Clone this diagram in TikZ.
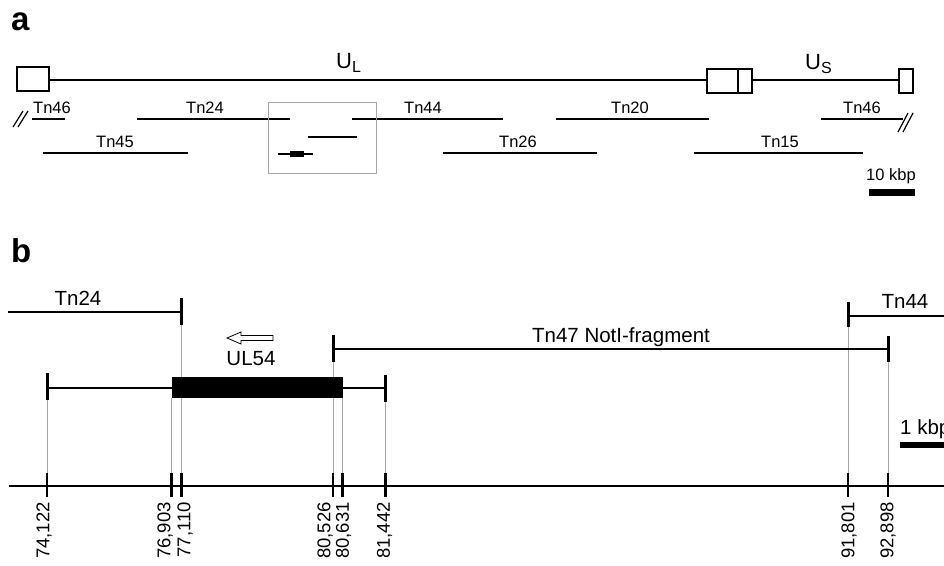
\documentclass[tikz,border=0pt]{standalone}
\usepackage{fontspec}
\setmainfont{Liberation Sans}
\begin{document}
\begin{tikzpicture}[x=1pt,y=-1pt,
  thinln/.style={line width=1.2pt},
  thickln/.style={line width=2.6pt},
  tickln/.style={line width=3pt},
  guide/.style={line width=0.6pt, gray!70},
  laba/.style={font=\fontsize{16.5}{18}\selectfont, anchor=base, inner sep=0},
  labb/.style={font=\fontsize{20.5}{22}\selectfont, anchor=base, inner sep=0},
  poslab/.style={font=\fontsize{18.5}{20}\selectfont, rotate=90, anchor=east, inner sep=0},
  panel/.style={font=\fontsize{33}{35}\selectfont\bfseries, anchor=base west, inner sep=0},
  ulab/.style={font=\fontsize{22}{24}\selectfont, anchor=base west, inner sep=0}]
\useasboundingbox (0,0) rectangle (944,565);

% ---------------- panel a ----------------
\node[panel] (pa) at (11,30) {a};
\node[ulab] (ul) at (336,68.5) {U\raisebox{-3.5pt}{\fontsize{16}{16}\selectfont L}};
\node[ulab] (us) at (805,69.5) {U\raisebox{-3.5pt}{\fontsize{16}{16}\selectfont S}};

\draw[thinln] (17,67) rectangle (49,91);
\draw[thinln] (707,69) rectangle (738,93);
\draw[thinln] (738,69) rectangle (752,93);
\draw[thinln] (899,69) rectangle (913,93);
\draw[thinln] (49,80) -- (707,80);
\draw[thinln] (752,80) -- (899,80);

% row 1
\draw[thinln] (32,119) -- (65,119);
\draw[thinln] (13,127) -- (23,111) (18,127) -- (28,111);
\node[laba] (tn46l) at (52,113.5) {Tn46};
\draw[thinln] (137,119) -- (290,119);
\node[laba] (tn24a) at (205,113.5) {Tn24};
\draw[thinln] (352,119) -- (503,119);
\node[laba] (tn44a) at (423,113.5) {Tn44};
\draw[thinln] (556,119) -- (709,119);
\node[laba] (tn20) at (630,113.5) {Tn20};
\draw[thinln] (821,119) -- (903,119);
\draw[thinln] (898,132) -- (908,113) (903,132) -- (913,113);
\node[laba] (tn46r) at (862,113.5) {Tn46};

% row 2
\draw[thinln] (43,153) -- (188,153);
\node[laba] (tn45) at (115,147.5) {Tn45};
\draw[thinln] (443,153) -- (597,153);
\node[laba] (tn26) at (518,147.5) {Tn26};
\draw[thinln] (694,153) -- (863,153);
\node[laba] (tn15) at (780,147.5) {Tn15};

% zoom box
\draw[line width=0.8pt, gray!70] (268,102) rectangle (376,173);
\draw[thinln] (308,137) -- (357,137);
\draw[thinln] (278,154) -- (313,154);
\fill (290,151) rectangle (304,157);

% scale bar a
\node[laba] (kbp10) at (891,180) {10 kbp};
\fill (869,189) rectangle (915,196);

% ---------------- panel b ----------------
\node[panel] (pb) at (11,262) {b};

% guide lines
\draw[guide] (47,400) -- (47,473);
\draw[guide] (171.5,398) -- (171.5,473);
\draw[guide] (181.5,325) -- (181.5,473);
\draw[guide] (333,362) -- (333,473);
\draw[guide] (342.5,398) -- (342.5,473);
\draw[guide] (385.5,402) -- (385.5,473);
\draw[guide] (848,327) -- (848,473);
\draw[guide] (888,362) -- (888,473);

% Tn24
\draw[thickln] (8,312) -- (181.5,312);
\draw[tickln] (181.5,298) -- (181.5,325);
\node[labb] (tn24b) at (78,305) {Tn24};

% UL54 arrow
\draw[line width=0.8pt, fill=white] (273,335.5) -- (241,335.5) -- (241,332) -- (227,338)
  -- (241,344) -- (241,340.5) -- (273,340.5) -- cycle;
\node[labb] (ul54) at (251,365) {UL54};

% Tn47
\draw[thickln] (333,349) -- (888,349);
\draw[tickln] (333,335) -- (333,362);
\draw[tickln] (888,336) -- (888,362);
\node[labb] (tn47) at (621,342) {Tn47 NotI-fragment};

% Tn44
\draw[thickln] (848,316) -- (944,316);
\draw[tickln] (848,302) -- (848,327);
\node[labb] (tn44b) at (905,308) {Tn44};

% UL54 gene row
\draw[thickln] (47,388) -- (385.5,388);
\draw[tickln] (47,373) -- (47,400);
\draw[tickln] (385.5,375) -- (385.5,402);
\fill (171.5,377) rectangle (342.5,398);

% scale bar b
\node[labb, anchor=base west] (kbp1) at (900,434) {1 kbp};
\fill (900,442) rectangle (944,448);

% axis
\draw[line width=2pt] (9,486) -- (944,486);
\foreach \x in {47,171.5,181.5,333,342.5,385.5,848,888}
  \draw[line width=2.2pt] (\x,473) -- (\x,497);
\node[poslab] (p1) at (44,502) {74,122};
\node[poslab] (p2) at (165,502) {76,903};
\node[poslab] (p3) at (185,502) {77,110};
\node[poslab] (p4) at (325,502) {80,526};
\node[poslab] (p5) at (343.5,502) {80,631};
\node[poslab] (p6) at (384.5,502) {81,442};
\node[poslab] (p7) at (849,502) {91,801};
\node[poslab] (p8) at (888,502) {92,898};
\end{tikzpicture}
\end{document}
